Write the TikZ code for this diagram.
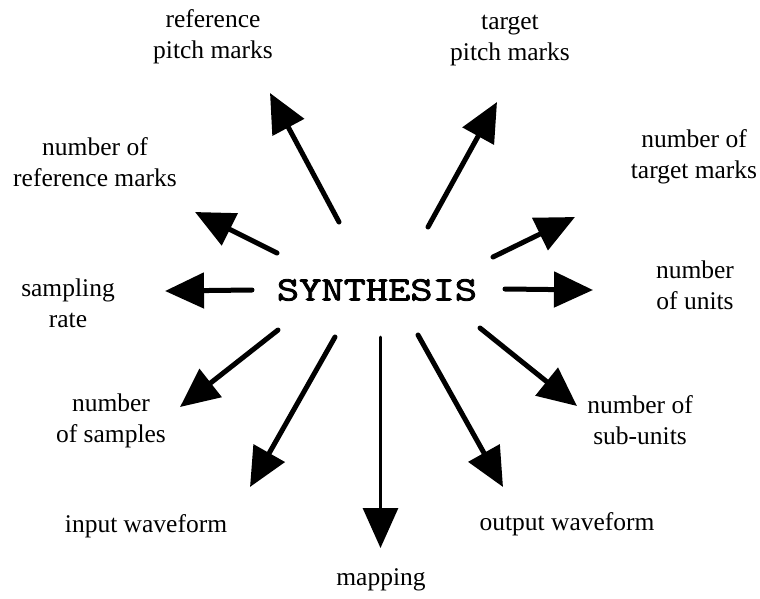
\documentclass[tikz,border=0pt]{standalone}
\usepackage{fontspec}
\setmainfont{Liberation Serif}
\newfontfamily\synfont{Latin Modern Mono}[FakeStretch=1.27,FakeBold=2.5]
\usetikzlibrary{arrows.meta}
\begin{document}
\begin{tikzpicture}[x=1pt,y=-1pt,
  lbl/.style={align=center,inner sep=0pt,font=\fontsize{25.5}{31}\selectfont},
  bigarrow/.style={line width=5pt,line cap=round,-{Triangle[length=39pt,width=35pt]}},
  thinarrow/.style={line width=3pt,line cap=round,-{Triangle[length=40pt,width=35pt]}}]
\useasboundingbox (0,0) rectangle (760,598);
% centre
\node[inner sep=0pt,font=\synfont\fontsize{34}{40}\selectfont] (syn) at (377,290) {SYNTHESIS};
% labels
\node[lbl] (refpitch) at (213,37) {reference\\pitch marks};
\node[lbl] (tpitch) at (510,41) {target\\pitch marks};
\node[lbl] (refmarks) at (95,162) {number of\\reference marks};
\node[lbl] (tmarks) at (694,157) {number of\\target marks};
\node[lbl] (sampling) at (68,303) {sampling\\rate};
\node[lbl] (units) at (695,285) {number\\of units};
\node[lbl] (samples) at (111,421) {number\\of samples};
\node[lbl] (subunits) at (640,420) {number of\\sub-units};
\node[lbl] (input) at (146,526) {input waveform};
\node[lbl] (output) at (567,524) {output waveform};
\node[lbl] (mapping) at (381,580) {mapping};
% arrow ends
\coordinate (s1) at (339,222); \coordinate (e1) at (270,93);
\coordinate (s2) at (277,253); \coordinate (e2) at (195,212);
\coordinate (s3) at (252,290); \coordinate (e3) at (165,291);
\coordinate (s4) at (278,330); \coordinate (e4) at (180,407);
\coordinate (s5) at (335,337); \coordinate (e5) at (250,487);
\coordinate (s6) at (380.5,337); \coordinate (e6) at (380.5,548);
\coordinate (s7) at (418,335); \coordinate (e7) at (503,487);
\coordinate (s8) at (480,328); \coordinate (e8) at (577,406);
\coordinate (s9) at (505,289); \coordinate (e9) at (593,290);
\coordinate (s10) at (493,257); \coordinate (e10) at (575,217);
\coordinate (s11) at (428,227); \coordinate (e11) at (497,102);
\draw[bigarrow] (s1) -- (e1);
\draw[bigarrow] (s2) -- (e2);
\draw[bigarrow] (s3) -- (e3);
\draw[bigarrow] (s4) -- (e4);
\draw[bigarrow] (s5) -- (e5);
\draw[thinarrow] (s6) -- (e6);
\draw[bigarrow] (s7) -- (e7);
\draw[bigarrow] (s8) -- (e8);
\draw[bigarrow] (s9) -- (e9);
\draw[bigarrow] (s10) -- (e10);
\draw[bigarrow] (s11) -- (e11);
\end{tikzpicture}
\end{document}
